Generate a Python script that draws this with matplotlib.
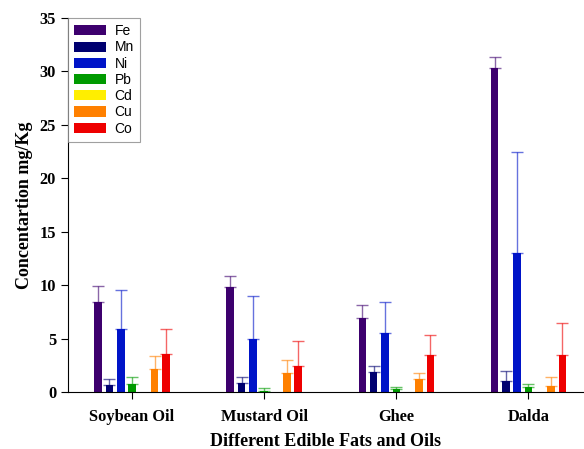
import numpy as np
import matplotlib.pyplot as plt
from matplotlib.colors import to_rgba

samples = ["Soybean Oil", "Mustard Oil", "Ghee", "Dalda"]
metals = ["Fe", "Mn", "Ni", "Pb", "Cd", "Cu", "Co"]

# mean concentration (mg/Kg), one list per metal across the four samples
conc = {
    "Fe": [8.4, 9.8, 6.9, 30.35],
    "Mn": [0.65, 0.87, 1.84, 1.03],
    "Ni": [5.87, 4.93, 5.52, 12.98],
    "Pb": [0.72, 0.06, 0.25, 0.47],
    "Cd": [0.0, 0.0, 0.0, 0.0],
    "Cu": [2.18, 1.75, 1.22, 0.56],
    "Co": [3.58, 2.46, 3.43, 3.49],
}
# standard deviation (upper error bar only)
sd = {
    "Fe": [1.55, 1.03, 1.27, 1.0],
    "Mn": [0.54, 0.56, 0.62, 0.94],
    "Ni": [3.68, 4.03, 2.9, 9.51],
    "Pb": [0.71, 0.29, 0.25, 0.25],
    "Cd": [0.0, 0.0, 0.0, 0.0],
    "Cu": [1.22, 1.22, 0.56, 0.87],
    "Co": [2.35, 2.34, 1.9, 2.94],
}

colors = {
    "Fe": "#3d006e",
    "Mn": "#000070",
    "Ni": "#0014c8",
    "Pb": "#009a00",
    "Cd": "#ffee00",
    "Cu": "#ff8000",
    "Co": "#ee0000",
}

fig = plt.figure(figsize=(5.84, 4.49), dpi=100)
ax = fig.add_axes([0.1164, 0.127, 0.8836, 0.833])

x = np.arange(len(samples))
step = 0.0857
width = 0.057

for i, m in enumerate(metals):
    pos = x + (i - 3) * step
    c = colors[m]
    ax.bar(pos, conc[m], width=width, color=c, label=m, zorder=2)
    if m == "Cd":
        continue
    ecol = to_rgba(c, 0.6)
    ax.errorbar(pos, conc[m], yerr=[np.zeros(len(samples)), sd[m]], fmt="none",
                ecolor=ecol, elinewidth=1.0, capsize=4, capthick=1.0, zorder=3)

ax.set_xlim(-0.485, 3.42)
ax.set_ylim(0, 35)
ax.set_yticks(np.arange(0, 36, 5))
ax.set_xticks(x)
ax.set_xticklabels(samples)

for s in ["top", "right"]:
    ax.spines[s].set_visible(False)
ax.spines["left"].set_linewidth(0.8)
ax.spines["bottom"].set_linewidth(0.8)
ax.tick_params(axis="both", direction="out", length=5, width=0.8)
ax.tick_params(axis="x", pad=7)

serif = "Liberation Serif"
for lab in ax.get_xticklabels() + ax.get_yticklabels():
    lab.set_fontfamily(serif)
    lab.set_fontweight("bold")
    lab.set_fontsize(11.8)

ax.set_ylabel("Concentartion mg/Kg", family=serif, weight="bold", fontsize=13, labelpad=5)
ax.set_xlabel("Different Edible Fats and Oils", family=serif, weight="bold", fontsize=13, labelpad=6)

leg = ax.legend(loc="upper left", bbox_to_anchor=(0.0, 1.0), prop={"family": "Liberation Sans", "size": 10},
                handlelength=2.3, handleheight=0.75, labelspacing=0.16, borderaxespad=0.0,
                frameon=True, fancybox=False, edgecolor="#888888", handletextpad=0.6, borderpad=0.45)
leg.get_frame().set_linewidth(0.8)

fig.savefig("out.png", dpi=100)
